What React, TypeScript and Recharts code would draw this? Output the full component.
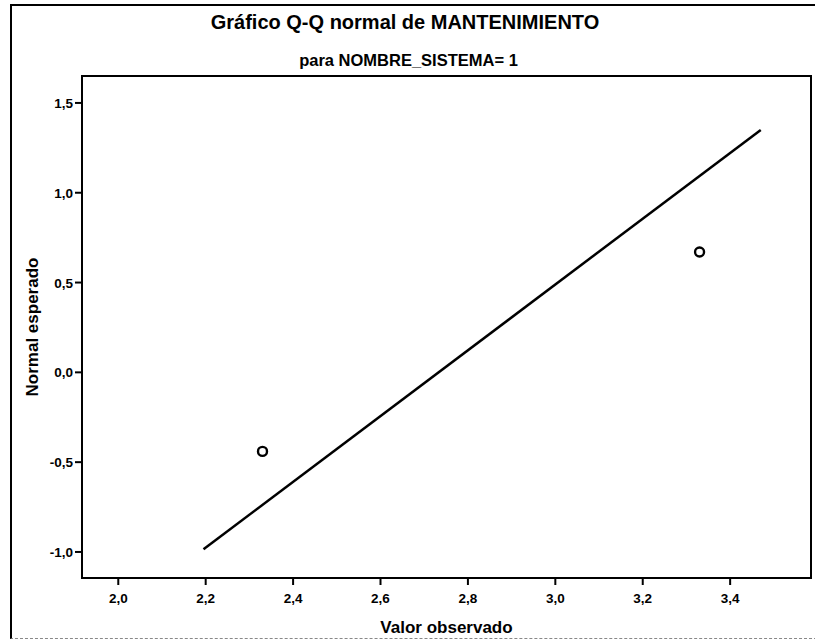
import { ScatterChart, Scatter, XAxis, YAxis, ReferenceArea } from 'recharts';

const observed = [2.33, 3.33];
const expected = [-0.44, 0.67];
const lineX = [2.195, 3.47];
const lineY = [-0.985, 1.35];
const xTicks = [2.0, 2.2, 2.4, 2.6, 2.8, 3.0, 3.2, 3.4];
const yTicks = [-1.0, -0.5, 0.0, 0.5, 1.0, 1.5];
const xDomain = [1.917, 3.585];
const yDomain = [-1.145, 1.65];

const FONT = '"Liberation Sans", Arial, sans-serif';

const points = observed.map((x, i) => ({ x, y: expected[i] }));
const lineData = lineX.map((x, i) => ({ x, y: lineY[i] }));

const fmt = (v: number) => v.toFixed(1).replace('.', ',');

// eslint-disable-next-line @typescript-eslint/no-explicit-any
const Ring = (props: any) => (
    <circle cx={props.cx} cy={props.cy} r={4.5} fill="none" stroke="#000" strokeWidth={2.4} />
);

// eslint-disable-next-line @typescript-eslint/no-explicit-any
const XTick = ({ x, y, payload }: any) => (
    <text x={x} y={y + 12} textAnchor="middle" fill="#000" fontSize={13.5} fontWeight={700} fontFamily={FONT}>
        {fmt(payload.value)}
    </text>
);

// eslint-disable-next-line @typescript-eslint/no-explicit-any
const YTick = ({ x, y, payload }: any) => (
    <text x={x} y={y + 5} textAnchor="end" fill="#000" fontSize={13.5} fontWeight={700} fontFamily={FONT}>
        {fmt(payload.value)}
    </text>
);

export default function App() {
    return (
        <div style={{ position: 'absolute', left: 0, top: 0, width: 815, height: 640, background: '#fff', fontFamily: FONT }}>
            {/* marco exterior */}
            <div
                style={{
                    position: 'absolute', left: 10, top: 4, width: 820, height: 632,
                    borderLeft: '2px solid #000', borderTop: '2px solid #000', borderBottom: '1px dashed #888',
                }}
            />
            <div style={{ position: 'absolute', left: 0, width: 810, top: 11, textAlign: 'center', fontSize: 20, fontWeight: 700 }}>
                Gráfico Q-Q normal de MANTENIMIENTO
            </div>
            <div style={{ position: 'absolute', left: 0, width: 817, top: 51, textAlign: 'center', fontSize: 16.5, fontWeight: 700 }}>
                para NOMBRE_SISTEMA= 1
            </div>
            <div style={{ position: 'absolute', left: 0, top: 0 }}>
                <ScatterChart width={815} height={640} margin={{ top: 76, right: 4, bottom: 0, left: 0 }}>
                    <XAxis
                        type="number"
                        dataKey="x"
                        domain={xDomain}
                        ticks={xTicks}
                        allowDataOverflow
                        tick={<XTick />}
                        axisLine={false}
                        tickLine={{ stroke: '#000', strokeWidth: 2 }}
                        tickSize={7}
                        tickMargin={6}
                        height={62}
                        label={{ value: 'Valor observado', position: 'insideBottom', offset: 7, fill: '#000', fontSize: 17, fontWeight: 700, fontFamily: FONT }}
                    />
                    <YAxis
                        type="number"
                        dataKey="y"
                        domain={yDomain}
                        ticks={yTicks}
                        allowDataOverflow
                        tick={<YTick />}
                        axisLine={false}
                        tickLine={{ stroke: '#000', strokeWidth: 2 }}
                        tickSize={7}
                        tickMargin={2}
                        width={82}
                        label={{ value: 'Normal esperado', angle: -90, position: 'insideLeft', offset: 32, fill: '#000', fontSize: 17, fontWeight: 700, fontFamily: FONT, style: { textAnchor: 'middle' } }}
                    />
                    <ReferenceArea
                        x1={xDomain[0]}
                        x2={xDomain[1]}
                        y1={yDomain[0]}
                        y2={yDomain[1]}
                        fill="none"
                        stroke="#000"
                        strokeWidth={2}
                        fillOpacity={0}
                        ifOverflow="visible"
                    />
                    <Scatter data={lineData} line={{ stroke: '#000', strokeWidth: 2.5 }} shape={() => <g />} isAnimationActive={false} />
                    <Scatter data={points} shape={Ring} isAnimationActive={false} />
                </ScatterChart>
            </div>
        </div>
    );
}
